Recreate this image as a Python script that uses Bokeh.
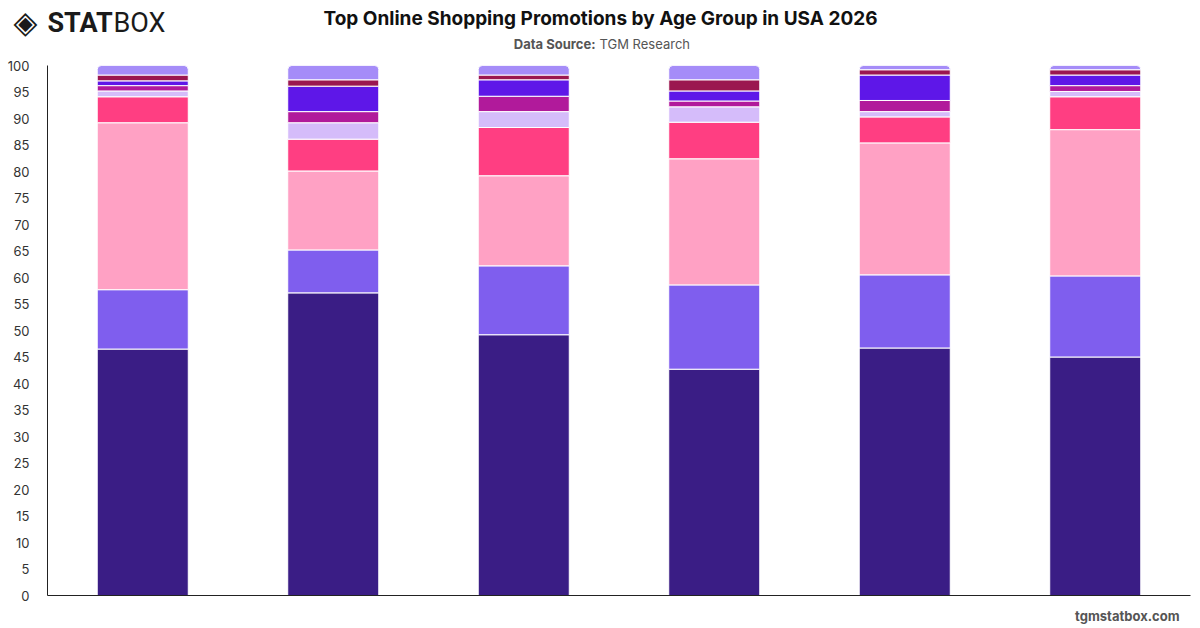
from bokeh.plotting import figure
from bokeh.layouts import column, row
from bokeh.models import Label, FactorRange, Range1d, SingleIntervalTicker
from bokeh.embed import file_html
from bokeh.resources import INLINE

age_groups = ["18-24", "25-34", "35-44", "45-54", "55-64", "65+"]
series_names = ["Discount Codes", "Free Shipping", "Flash Sales", "Cashback Offers",
                "Loyalty Points", "Bundle Deals", "Buy One Get One", "Gift with Purchase", "Other"]
discount_codes = [46.5, 57.1, 49.2, 42.7, 46.7, 45.0]
free_shipping = [11.2, 8.1, 13.0, 15.9, 13.8, 15.3]
flash_sales = [31.5, 14.9, 17.0, 23.8, 24.9, 27.6]
cashback_offers = [4.9, 6.0, 9.1, 6.9, 4.9, 6.2]
loyalty_points = [1.1, 3.1, 3.0, 2.9, 1.0, 1.0]
bundle_deals = [1.0, 2.1, 2.9, 1.1, 2.1, 1.1]
bogo = [0.9, 4.8, 3.1, 1.9, 4.8, 2.0]
gift_with_purchase = [1.1, 1.2, 0.9, 2.1, 1.0, 1.0]
other = [1.8, 2.7, 1.8, 2.7, 0.8, 0.8]
colors = ["#3a1d85", "#7f5eee", "#ffa1c4", "#ff3e82", "#d5bcfa",
          "#b11a9b", "#5e17e8", "#9b1750", "#a58cf8"]

series_values = [discount_codes, free_shipping, flash_sales, cashback_offers, loyalty_points,
                 bundle_deals, bogo, gift_with_purchase, other]

W = 1200
HEAD_H, FOOT_H = 55, 25
MAIN_H = 628 - HEAD_H - FOOT_H
L, R, T, B = 47, 10, 65 - HEAD_H, MAIN_H - (65 - HEAD_H) - 530


def blank(height):
    f = figure(width=W, height=height, x_range=Range1d(0, 1), y_range=Range1d(0, 1),
               x_axis_type=None, y_axis_type=None, output_backend="svg", toolbar_location=None,
               min_border=0)
    f.outline_line_color = None
    f.xgrid.grid_line_color = None
    f.ygrid.grid_line_color = None
    return f


def add_label(f, text, cx, cy, size, color, style="normal", align="left", font="Inter"):
    f.add_layout(Label(x=cx, y=f.height - cy, x_units="screen", y_units="screen",
                       text=text, text_font=font, text_font_size=size, text_color=color,
                       text_font_style=style, text_align=align, text_baseline="middle"))


header = blank(HEAD_H)
add_label(header, "Top Online Shopping Promotions by Age Group in USA 2026", 600, 18, "19px", "#111111", "bold", "center")
add_label(header, "Data Source:", 595, 43, "13px", "#555555", "bold", "right")
add_label(header, "TGM Research", 599, 43, "13px", "#555555", "normal", "left")
add_label(header, "◈", 13, 21, "31px", "#1a1a1a", "bold", "left", "DejaVu Sans")
add_label(header, "STAT", 47, 22, "27px", "#1a1a1a", "bold", "left", "Roboto")
add_label(header, "BOX", 113, 22, "27px", "#1a1a1a", "normal", "left", "Roboto")

footer = blank(FOOT_H)
add_label(footer, "tgmstatbox.com", 1179, 12, "13px", "#555555", "bold", "right")

p = figure(width=W, height=MAIN_H, x_range=FactorRange(*age_groups, range_padding=0),
           y_range=Range1d(0, 100), output_backend="svg", toolbar_location=None,
           min_border_left=L, min_border_right=R, min_border_top=T, min_border_bottom=B)
p.outline_line_color = None
p.xgrid.grid_line_color = None
p.ygrid.grid_line_color = None

bottoms = [0.0] * len(age_groups)
for i, (vals, col) in enumerate(zip(series_values, colors)):
    tops = [b + v for b, v in zip(bottoms, vals)]
    radius = (4, 4, 0, 0) if i == len(series_values) - 1 else 0
    p.vbar(x=age_groups, bottom=bottoms, top=tops, width=0.478, fill_color=col,
           line_color="white", line_width=1, border_radius=radius)
    bottoms = tops

p.yaxis.ticker = SingleIntervalTicker(interval=5)
p.yaxis.major_tick_line_color = None
p.yaxis.minor_tick_line_color = None
p.yaxis.axis_line_color = "#222222"
p.yaxis.major_label_text_font = "Inter"
p.yaxis.major_label_text_font_size = "13px"
p.yaxis.major_label_text_color = "#333333"
p.yaxis.major_label_standoff = 12
p.xaxis.major_tick_line_color = None
p.xaxis.minor_tick_line_color = None
p.xaxis.major_tick_out = 0
p.xaxis.axis_line_color = "#222222"
p.xaxis.major_label_text_font_size = "0px"
p.xaxis.major_label_standoff = 0
p.xaxis.major_label_text_color = None

layout = column(row(header), p, row(footer), spacing=0)
open("out.html", "w").write(file_html(layout, INLINE))
